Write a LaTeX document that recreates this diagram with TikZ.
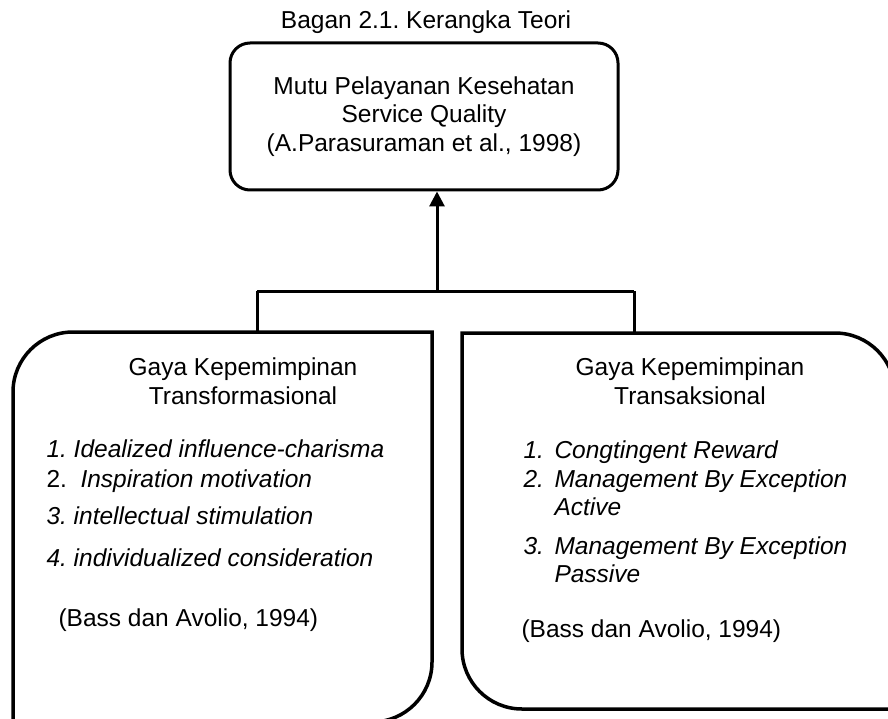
\documentclass[tikz,border=0pt]{standalone}
\usepackage{fontspec}
\setmainfont{Liberation Sans}
\usetikzlibrary{arrows.meta}
\frenchspacing

\begin{document}
\begin{tikzpicture}[x=1pt,y=-1pt,line width=3pt,
    txt/.style={inner sep=0pt,font=\fontsize{24.5}{28.5}\selectfont},
    head/.style={txt,align=center}]
        \useasboundingbox (0,0) rectangle (888,719);
        \clip (0,0) rectangle (888,719);

        \node[txt,anchor=base] (judul) at (426,29) {Bagan 2.1. Kerangka Teori};
        \node[head,draw,rounded corners=20pt,minimum width=388pt,minimum height=147pt,line width=3pt] (mutu) at (424,116.5)
            {Mutu Pelayanan Kesehatan\\Service Quality\\(A.Parasuraman et al., 1998)};

        % garis penghubung
        \coordinate (tengah) at (437,291);
        \coordinate (kiri) at (257,291);
        \coordinate (kanan) at (634,291);
        \coordinate (transf) at (257,333);
        \coordinate (transa) at (634,333);
        \draw (kiri) -- (kanan);
        \draw (kiri) -- (transf);
        \draw (kanan) -- (transa);
        \draw[-{Triangle[length=15pt,width=15pt]}] (tengah) -- (tengah |- mutu.south);

        % kotak kiri
        \draw[line width=3.5pt] (13,730) [rounded corners=60pt] -- (13,332) [sharp corners] -- (432,332) [rounded corners=60pt] -- (432,722) -- (0,722);
        \node[head] (gayaf) at (243,381) {Gaya Kepemimpinan\\Transformasional};
        \node[txt,anchor=base west] (f1) at (45,457) {\itshape 1. Idealized influence-charisma};
        \node[txt,anchor=base west] (f2) at (45,487) {2.\ \ \itshape Inspiration motivation};
        \node[txt,anchor=base west] (f3) at (45,524) {\itshape 3. intellectual stimulation};
        \node[txt,anchor=base west] (f4) at (45,566) {\itshape 4. individualized consideration};
        \node[txt,anchor=base west] (bassf) at (57,626) {(Bass dan Avolio, 1994)};

        % kotak kanan
        \draw[line width=3.5pt] (900,709) [rounded corners=60pt] -- (462,709) [sharp corners] -- (462,333) [rounded corners=60pt] -- (895,333) -- (895,730);
        \node[head] (gayaa) at (690,381) {Gaya Kepemimpinan\\Transaksional};
        \node[txt,anchor=base west] (a1) at (522,458) {\itshape 1.};
        \node[txt,anchor=base west] (a1t) at (553,458) {\itshape Congtingent Reward};
        \node[txt,anchor=base west] (a2) at (522,487) {\itshape 2.};
        \node[txt,anchor=base west] (a2t) at (553,487) {\itshape Management By Exception};
        \node[txt,anchor=base west] (a2u) at (553,515) {\itshape Active};
        \node[txt,anchor=base west] (a3) at (522,554) {\itshape 3.};
        \node[txt,anchor=base west] (a3t) at (553,554) {\itshape Management By Exception};
        \node[txt,anchor=base west] (a3u) at (553,582) {\itshape Passive};
        \node[txt,anchor=base west] (bassa) at (520,637) {(Bass dan Avolio, 1994)};
    \end{tikzpicture}
\end{document}
